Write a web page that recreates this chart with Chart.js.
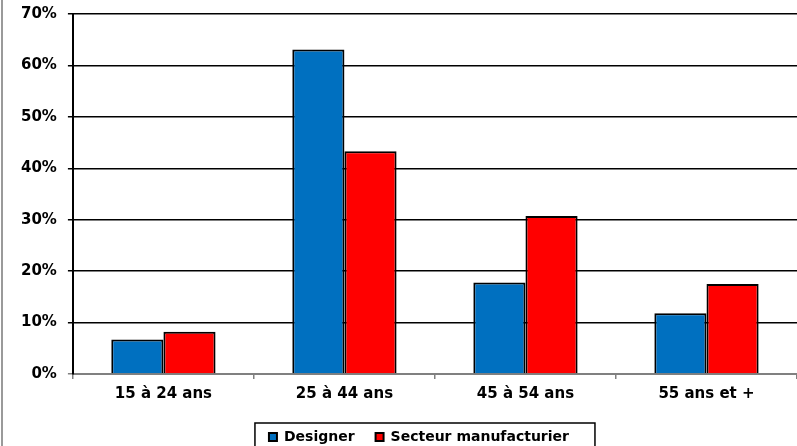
<!DOCTYPE html>
<html>
<head>
<meta charset="utf-8">
<script src="https://cdn.jsdelivr.net/npm/chart.js@4/dist/chart.umd.min.js"></script>
<style>
html,body{margin:0;padding:0;background:#fff;overflow:hidden;}
#wrap{position:relative;width:797px;height:454px;}
#edge{position:absolute;left:1px;top:0;width:2px;height:446px;background:#9a9a9a;}
</style>
</head>
<body>
<div id="wrap"><canvas id="c" width="797" height="454"></canvas><div id="edge"></div></div>
<script>
const categories=['15 à 24 ans','25 à 44 ans','45 à 54 ans','55 ans et +'];
const designer=[6.7,63.1,17.8,11.8];
const secteur=[8.2,43.3,30.7,17.5];
const seriesNames=['Designer','Secteur manufacturier'];

const font={family:'"DejaVu Sans", Verdana, sans-serif',size:15,weight:'bold'};

// frame around the legend, like the original; legend sits a bit left of plot centre
const legendFrame={
  id:'legendFrame',
  afterUpdate(chart){
    const lg=chart.legend;
    if(!lg) return;
    lg.left-=16; lg.right-=16;
  },
  afterDraw(chart){
    const lg=chart.legend;
    if(!lg||!lg.lineWidths) return;
    const pad=lg.options.labels.padding;
    const startX=(lg.left+pad+lg.right-lg.lineWidths[0])/2;
    const l=startX-14, r=startX+lg.lineWidths[0]-pad+26;
    const t=lg.top+pad-7, b=t+60;
    const ctx=chart.ctx;
    ctx.save();ctx.strokeStyle='#000';ctx.lineWidth=1.5;
    ctx.strokeRect(l,t,r-l,b-t);ctx.restore();
  }
};

new Chart(document.getElementById('c'),{
  type:'bar',
  data:{
    labels:categories,
    datasets:[
      {label:seriesNames[0],data:designer,backgroundColor:'#0070C0',borderColor:'#000',borderWidth:2},
      {label:seriesNames[1],data:secteur,backgroundColor:'#FF0000',borderColor:'#000',borderWidth:2}
    ]
  },
  options:{
    responsive:false,animation:false,
    layout:{padding:{top:14,left:10,right:0,bottom:0}},
    datasets:{bar:{categoryPercentage:0.576,barPercentage:1}},
    plugins:{
      tooltip:{enabled:false},
      legend:{
        position:'bottom',fullSize:false,
        labels:{font:{...font,size:14},color:'#000',boxWidth:8,boxHeight:8,padding:21}
      }
    },
    scales:{
      x:{
        grid:{drawOnChartArea:false,color:'#808080',tickLength:5,lineWidth:1.5},
        border:{color:'#808080',width:2},
        ticks:{font:font,color:'#000',padding:6}
      },
      y:{
        min:0,max:70,
        grid:{color:c=>c.tick&&c.tick.value===0?'#808080':'#000',lineWidth:1.5,tickLength:5},
        border:{color:'#000',width:2},
        ticks:{stepSize:10,font:{...font,lineHeight:0.4},color:'#000',padding:11,callback:v=>v+'%'}
      }
    }
  },
  plugins:[legendFrame]
});
</script>
</body>
</html>
